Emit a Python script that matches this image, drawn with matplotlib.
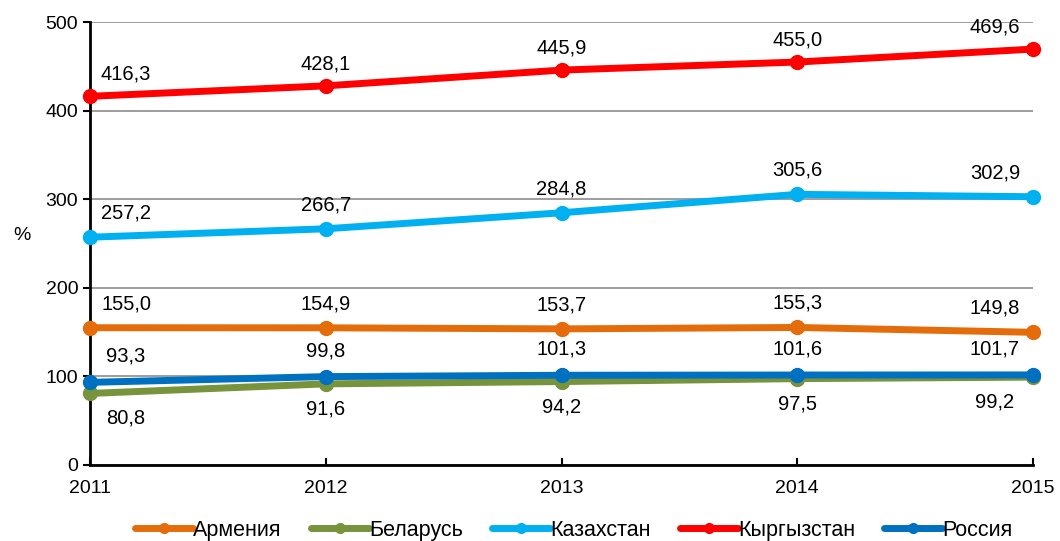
import matplotlib.pyplot as plt

plt.rcParams['font.family'] = ['Liberation Sans', 'DejaVu Sans']

years = [2011, 2012, 2013, 2014, 2015]
armenia = [155.0, 154.9, 153.7, 155.3, 149.8]
belarus = [80.8, 91.6, 94.2, 97.5, 99.2]
kazakhstan = [257.2, 266.7, 284.8, 305.6, 302.9]
kyrgyzstan = [416.3, 428.1, 445.9, 455.0, 469.6]
russia = [93.3, 99.8, 101.3, 101.6, 101.7]

series = [
    ('Армения', armenia, '#E46C0A', 24),
    ('Беларусь', belarus, '#77933C', -25),
    ('Казахстан', kazakhstan, '#00B0F0', 24),
    ('Кыргызстан', kyrgyzstan, '#FF0000', 22),
    ('Россия', russia, '#0070C0', 26),
]

fig = plt.figure(figsize=(10.6, 5.41), dpi=100)
ax = fig.add_axes([0.085, 0.1405, 0.8895, 0.8185])

for name, vals, color, dy in series:
    ax.plot(years, vals, color=color, lw=5, marker='o', ms=10, label=name,
            solid_capstyle='round', clip_on=False, zorder=3)
    for i, (x, v) in enumerate(zip(years, vals)):
        dx = 0
        if i == 0:
            dx = 36
        elif i == len(years) - 1:
            dx = -38
        ax.annotate(f'{v:.1f}'.replace('.', ','), (x, v), xytext=(dx, dy),
                    textcoords='offset pixels', ha='center', va='center',
                    fontsize=14.5)

ax.set_xlim(2011, 2015)
ax.set_ylim(0, 500)
ax.set_xticks(years)
ax.set_yticks(range(0, 501, 100))
ax.tick_params(axis='y', labelsize=14, length=5, width=1.5)
ax.tick_params(axis='x', labelsize=14, length=5, width=1.5, direction='in', pad=11)
ax.grid(axis='y', color='#8c8c8c', lw=1.2)
ax.set_axisbelow(True)
for s in ['top', 'right']:
    ax.spines[s].set_visible(False)
for s in ['left', 'bottom']:
    ax.spines[s].set_linewidth(2)
ax.set_ylabel('%', rotation=0, fontsize=14)
ax.yaxis.set_label_coords(-0.072, 0.5)

leg = ax.legend(loc='center', bbox_to_anchor=(0.513, -0.147), ncol=5, frameon=False,
                fontsize=15.5, handlelength=2.7, handletextpad=0.0, columnspacing=1.35,
                markerscale=0.7, borderpad=0)

plt.savefig('out.png')
